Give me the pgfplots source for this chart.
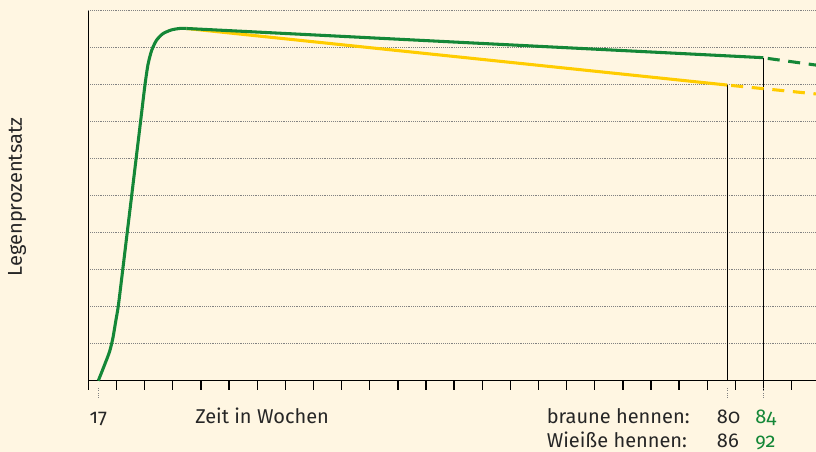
\documentclass[border=0pt]{standalone}
\usepackage{pgfplots}
\pgfplotsset{compat=1.18}
\usepackage{fontspec}
\setmainfont{Fira Sans}[Numbers=OldStyle]
\definecolor{bgcream}{RGB}{255,246,226}
\definecolor{hgreen}{RGB}{20,135,55}
\definecolor{hyellow}{RGB}{255,204,0}
\definecolor{gridgray}{RGB}{130,130,130}
\tikzset{lbl/.style={font=\fontsize{15}{18}\selectfont, inner sep=0pt, text=black!85}}
\begin{document}
\begin{tikzpicture}
\fill[bgcream,use as bounding box] (0,0) rectangle (612pt,339pt);
\begin{axis}[
  at={(66.3pt,53.475pt)}, anchor=south west,
  x=21.0975pt, y=27.75pt,
  xmin=0, xmax=25.866, ymin=0, ymax=10,
  axis x line=bottom, axis y line=left,
  axis line style={-, line width=1pt, black},
  xtick={0,...,25}, xticklabels={},
  tick align=outside, major tick length=6.75pt,
  xtick style={line width=1pt, black},
  ytick={1,...,10}, yticklabels={},
  ytick style={draw=none},
  ymajorgrids, grid style={densely dotted, gridgray, line width=0.75pt},
  clip=false,
]
% vertical markers
\addplot[black, line width=1pt] coordinates {(22.71,0) (22.71,7.99)};
\addplot[black, line width=1pt] coordinates {(23.99,0) (23.99,8.73)};
% yellow (white hens)
\addplot[hyellow, line width=2.3pt] coordinates {(3.494,9.519) (22.71,7.99)};
\addplot[hyellow, line width=2.3pt, dash pattern=on 9pt off 6.5pt] coordinates {(22.85,7.98) (25.866,7.75)};
% green (brown hens)
\addplot[hgreen, line width=2.3pt, smooth, tension=0.4] coordinates {
(0.352,0) (0.55,0.38) (0.75,0.78) (0.87,1.15) (0.97,1.6) (1.063,2.02) (1.221,3.0) (1.379,4.0) (1.538,5.0) (1.696,6.0) (1.854,7.0) (2.012,8.0) (2.12,8.55) (2.25,8.93) (2.42,9.2) (2.65,9.38) (2.95,9.48) (3.25,9.52) (3.494,9.519)};
\addplot[hgreen, line width=2.3pt] coordinates {(3.494,9.519) (23.99,8.73)};
\addplot[hgreen, line width=2.3pt, dash pattern=on 9pt off 6.5pt] coordinates {(24.15,8.71) (25.866,8.53)};
% small dotted marks below axis
\addplot[gridgray, densely dotted, line width=0.75pt] coordinates {(0.352,-0.2) (0.352,-0.47)};
\addplot[gridgray, densely dotted, line width=0.75pt] coordinates {(22.71,-0.2) (22.71,-0.47)};
\addplot[gridgray, densely dotted, line width=0.75pt] coordinates {(23.99,-0.2) (23.99,-0.47)};
% texts
\node[lbl, anchor=base] at (axis cs:0.352,-1.151) {17};
\node[lbl, anchor=base west] at (axis cs:3.79,-1.151) {Zeit in Wochen};
\node[lbl, anchor=base west] at (axis cs:16.285,-1.151) {braune hennen:};
\node[lbl, anchor=base west] at (axis cs:22.336,-1.151) {80};
\node[lbl, anchor=base west, text=hgreen] at (axis cs:23.70,-1.151) {84};
\node[lbl, anchor=base west] at (axis cs:16.285,-1.811) {Wieiße hennen:};
\node[lbl, anchor=base west] at (axis cs:22.336,-1.811) {86};
\node[lbl, anchor=base west, text=hgreen] at (axis cs:23.70,-1.811) {92};
\node[lbl, rotate=90, anchor=center] at (axis cs:-2.531,4.965) {Legenprozentsatz};
\end{axis}
\end{tikzpicture}
\end{document}
